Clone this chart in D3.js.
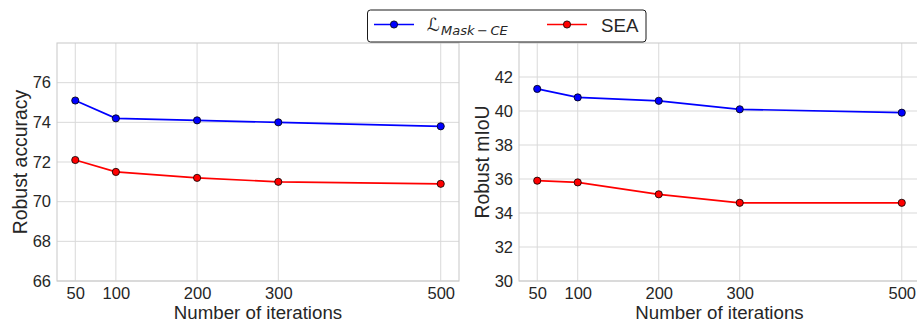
<!DOCTYPE html>
<html><head><meta charset="utf-8">
<script src="https://cdn.jsdelivr.net/npm/d3@7"></script>
<style>
body{margin:0;background:#fff;}
text{font-family:"Liberation Sans",Arial,sans-serif;fill:#262626;}
</style></head>
<body><svg id="c" width="917" height="322"></svg>
<script>
const iterations = [50, 100, 200, 300, 500];
const accMask = [75.1, 74.2, 74.1, 74.0, 73.8];
const accSEA  = [72.1, 71.5, 71.2, 71.0, 70.9];
const miouMask = [41.3, 40.8, 40.6, 40.1, 39.9];
const miouSEA  = [35.9, 35.8, 35.1, 34.6, 34.6];
const accTicks = [66, 68, 70, 72, 74, 76];
const miouTicks = [30, 32, 34, 36, 38, 40, 42];
const seriesNames = ["Mask-CE", "SEA"];
const colors = ["#0000ff", "#ff0000"];

const svg = d3.select("#c");
const tickFont = "16.5px", labelFont = "18.7px", yLabelFont = "19.4px";

function panel(left, right, yDomain, yTicks, series, ylabel){
  const top = 43, bottom = 281;
  const x = d3.scaleLinear().domain([27.5, 522.5]).range([left, right]);
  const y = d3.scaleLinear().domain(yDomain).range([bottom, top]);
  const g = svg.append("g");
  g.selectAll("line.gx").data(iterations).enter().append("line")
    .attr("x1", d => x(d)).attr("x2", d => x(d)).attr("y1", top).attr("y2", bottom)
    .attr("stroke", "#d9d9d9").attr("stroke-width", 1);
  g.selectAll("line.gy").data(yTicks).enter().append("line")
    .attr("x1", left).attr("x2", right).attr("y1", d => y(d)).attr("y2", d => y(d))
    .attr("stroke", "#d9d9d9").attr("stroke-width", 1);
  g.append("rect").attr("x", left).attr("y", top).attr("width", right-left).attr("height", bottom-top)
    .attr("fill", "none").attr("stroke", "#cccccc").attr("stroke-width", 1.1);
  const xa = g.append("g").attr("transform", `translate(0,${bottom})`)
    .call(d3.axisBottom(x).tickValues(iterations).tickSize(0).tickPadding(6.5));
  xa.select(".domain").remove();
  xa.selectAll("text").style("font-size", tickFont).attr("fill", "#262626").style("font-family", "Liberation Sans, Arial, sans-serif");
  const ya = g.append("g").attr("transform", `translate(${left},0)`)
    .call(d3.axisLeft(y).tickValues(yTicks).tickSize(0).tickPadding(6));
  ya.select(".domain").remove();
  ya.selectAll("text").style("font-size", tickFont).attr("fill", "#262626").style("font-family", "Liberation Sans, Arial, sans-serif");
  g.append("text").attr("x", (x(27.5)+x(522.5))/2).attr("y", 319.3)
    .attr("text-anchor", "middle").style("font-size", labelFont).text("Number of iterations");
  g.append("text").attr("transform", `translate(${left-30.5},${(top+bottom)/2}) rotate(-90)`)
    .attr("text-anchor", "middle").style("font-size", yLabelFont).text(ylabel);
  const line = d3.line().x((d,i) => x(iterations[i])).y(d => y(d));
  series.forEach((s, k) => {
    g.append("path").datum(s).attr("d", line).attr("fill", "none")
      .attr("stroke", colors[k]).attr("stroke-width", 1.7);
    g.selectAll("circle.s"+k).data(s).enter().append("circle")
      .attr("cx", (d,i) => x(iterations[i])).attr("cy", d => y(d)).attr("r", 3.6)
      .attr("fill", colors[k]).attr("stroke", "#000").attr("stroke-width", 0.8);
  });
}

panel(57, 459, [66, 78], accTicks, [accMask, accSEA], "Robust accuracy");
panel(519, 920, [30, 44], miouTicks, [miouMask, miouSEA], "Robust mIoU");

const lg = svg.append("g");
lg.append("rect").attr("x", 367.5).attr("y", 10).attr("width", 278.5).attr("height", 32)
  .attr("rx", 3).attr("fill", "#fff").attr("stroke", "#1a1a1a").attr("stroke-width", 1);
const lx = [374, 547];
seriesNames.forEach((n, k) => {
  lg.append("line").attr("x1", lx[k]).attr("x2", lx[k]+40).attr("y1", 24.5).attr("y2", 24.5)
    .attr("stroke", colors[k]).attr("stroke-width", 1.7);
  lg.append("circle").attr("cx", lx[k]+20).attr("cy", 24.5).attr("r", 3.6)
    .attr("fill", colors[k]).attr("stroke", "#000").attr("stroke-width", 0.8);
});
const t1 = lg.append("text").attr("x", 427).attr("y", 31).style("font-family", "DejaVu Sans, sans-serif");
t1.append("tspan").style("font-size", "18px").style("font-style", "italic").text("\u2112");
t1.append("tspan").attr("dy", 4).attr("dx", 1).style("font-size", "13px").style("font-style", "italic").text("Mask\u2009\u2212\u2009CE");
lg.append("text").attr("x", 601).attr("y", 31.5).style("font-size", labelFont).text("SEA");
</script></body></html>
